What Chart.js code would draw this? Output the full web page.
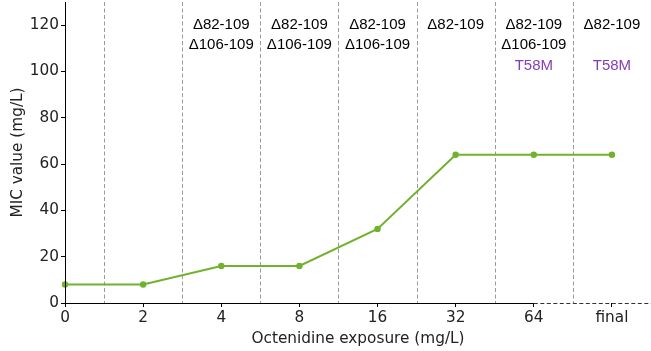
<!DOCTYPE html>
<html>
<head>
<meta charset="utf-8">
<script src="https://cdn.jsdelivr.net/npm/chart.js@4"></script>
<style>
  html, body { margin: 0; padding: 0; background: #fff; }
  #wrap { width: 651px; height: 351px; }
</style>
</head>
<body>
<div id="wrap"><canvas id="chart" width="651" height="351"></canvas></div>
<script>
const exposures = ["0", "2", "4", "8", "16", "32", "64", "final"];
const micValues = [8, 8, 16, 16, 32, 64, 64, 64];
const yTicks = [0, 20, 40, 60, 80, 100, 120];

// mutation labels per exposure step, one array per text row
const rowDel82 = ["", "", "Δ82-109", "Δ82-109", "Δ82-109", "Δ82-109", "Δ82-109", "Δ82-109"];
const rowDel106 = ["", "", "Δ106-109", "Δ106-109", "Δ106-109", "", "Δ106-109", ""];
const rowT58M = ["", "", "", "", "", "", "T58M", "T58M"];

const green = "#70b22e";
const purple = "#8540b8";

const points = micValues.map((v, i) => ({ x: i, y: v }));

const extras = {
    id: "extras",
    beforeDatasetsDraw(chart) {
        const { ctx, chartArea, scales } = chart;
        const x = scales.x;
        ctx.save();
        // dashed separators between steps
        ctx.strokeStyle = "#9a9a9a";
        ctx.lineWidth = 1;
        ctx.setLineDash([4, 2.5]);
        for (let i = 0; i < exposures.length - 1; i++) {
            const px = Math.round(x.getPixelForValue(i + 0.5)) + 0.5;
            ctx.beginPath();
            ctx.moveTo(px, chartArea.top);
            ctx.lineTo(px, chartArea.bottom);
            ctx.stroke();
        }
        ctx.restore();
    },
    afterDraw(chart) {
        const { ctx, chartArea, scales } = chart;
        const x = scales.x, y = scales.y;
        const y0 = Math.round(y.getPixelForValue(0)) + 0.5;
        const x64 = x.getPixelForValue(6);
        ctx.save();
        // bottom spine: solid up to 64, dashed afterwards
        ctx.strokeStyle = "#000";
        ctx.lineWidth = 1;
        ctx.beginPath();
        ctx.moveTo(chartArea.left, y0);
        ctx.lineTo(x64, y0);
        ctx.stroke();
        ctx.setLineDash([4, 2.5]);
        ctx.strokeStyle = "#333";
        ctx.beginPath();
        ctx.moveTo(x64, y0);
        ctx.lineTo(chartArea.right, y0);
        ctx.stroke();
        ctx.setLineDash([]);
        // left spine
        ctx.strokeStyle = "#000";
        ctx.beginPath();
        ctx.moveTo(Math.round(chartArea.left) + 0.5, chartArea.top);
        ctx.lineTo(Math.round(chartArea.left) + 0.5, chartArea.bottom);
        ctx.stroke();
        // mutation labels
        ctx.font = "15px 'Liberation Sans', Arial, sans-serif";
        ctx.textAlign = "center";
        ctx.textBaseline = "middle";
        const rows = [[rowDel82, "#000", 25], [rowDel106, "#000", 45], [rowT58M, purple, 66]];
        rows.forEach(([texts, color, py]) => {
            ctx.fillStyle = color;
            texts.forEach((t, i) => {
                if (t) ctx.fillText(t, x.getPixelForValue(i), py);
            });
        });
        ctx.restore();
    }
};

const tickFont = { family: "'DejaVu Sans'", size: 15.3 };

new Chart(document.getElementById("chart"), {
    type: "line",
    data: {
        datasets: [{
            data: points,
            borderColor: green,
            backgroundColor: green,
            borderWidth: 2,
            pointRadius: 3.2,
            pointHoverRadius: 3.2,
            pointBorderWidth: 0,
            tension: 0,
            clip: false
        }]
    },
    options: {
        responsive: false,
        animation: false,
        layout: { autoPadding: false, padding: { top: 2, right: 0, left: 0, bottom: 0 } },
        plugins: {
            legend: { display: false },
            tooltip: { enabled: false }
        },
        scales: {
            x: {
                type: "linear",
                min: 0,
                max: 7.5,
                afterBuildTicks: (s) => { s.ticks = exposures.map((_, i) => ({ value: i })); },
                afterFit: (s) => { s.height = 48; s.paddingLeft = 0; s.paddingRight = 0; },
                border: { display: false },
                grid: { drawOnChartArea: false, tickLength: 4, color: "#000" },
                ticks: {
                    callback: (v) => exposures[v],
                    color: "#222",
                    padding: 2,
                    maxRotation: 0,
                    font: tickFont
                },
                title: {
                    display: true,
                    text: "Octenidine exposure (mg/L)",
                    color: "#222",
                    padding: { top: 0, bottom: 3 },
                    font: tickFont
                }
            },
            y: {
                min: 0,
                max: 130,
                afterBuildTicks: (s) => { s.ticks = yTicks.map((v) => ({ value: v })); },
                afterFit: (s) => { s.width = 65; s.paddingTop = 0; s.paddingBottom = 0; },
                border: { display: false },
                grid: { drawOnChartArea: false, tickLength: 4, color: "#000" },
                ticks: {
                    color: "#222",
                    padding: 2,
                    font: tickFont
                },
                title: {
                    display: true,
                    text: "MIC value (mg/L)",
                    color: "#222",
                    padding: { top: 9, bottom: 0 },
                    font: tickFont
                }
            }
        }
    },
    plugins: [extras]
});
</script>
</body>
</html>
